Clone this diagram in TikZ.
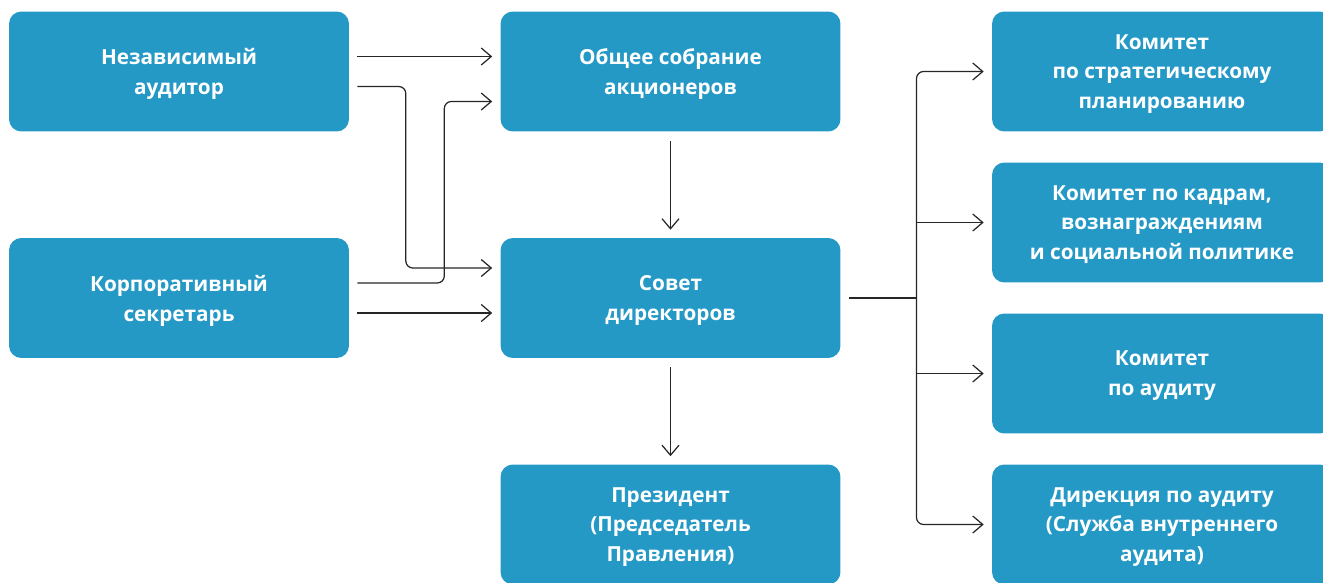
\documentclass[tikz,border=0pt]{standalone}
\usepackage{fontspec}
\setmainfont{Open Sans}
\usepackage{tikz}
\usetikzlibrary{positioning,calc,arrows.meta}
\definecolor{boxblue}{RGB}{37,153,198}

\begin{document}
\begin{tikzpicture}[x=0.02cm, y=-0.02cm,
    box/.style={rectangle, rounded corners=7pt, fill=boxblue, text=white,
      minimum width=6.8cm, minimum height=2.4cm, align=center, text depth=0pt,
      font=\fontsize{11.8}{17}\selectfont\bfseries},
    link/.style={line width=0.7pt, black!85},
    arr/.style={link, -{Straight Barb[length=0.2cm, width=0.34cm]}, shorten >=0.16cm}]
  \path[use as bounding box, clip] (0,0) rectangle (1323,582);

  % Left column
  \node[box] (aud) at (179, 71.5) {Независимый\\аудитор};
  \node[box] (sec) at (179, 298) {Корпоративный\\секретарь};

  % Middle column
  \node[box] (gen) at (670.5, 71.5) {Общее собрание\\акционеров};
  \node[box] (board) at (670.5, 298) {Совет\\директоров};
  \node[box] (pres) at (670.5, 524.5) {Президент\\(Председатель\\Правления)};

  % Committees (Right)
  \node[box] (strat) at (1162, 71.5) {Комитет\\по стратегическому\\планированию};
  \node[box] (staff) at (1162, 222.5) {Комитет по кадрам,\\вознаграждениям\\и социальной политике};
  \node[box] (audcom) at (1162, 373.5) {Комитет\\по аудиту};
  \node[box] (intaud) at (1162, 524.5) {Дирекция по аудиту\\(Служба внутреннего\\аудита)};

  % Links from the left
  \draw[arr, shorten <=0.16cm] ([yshift=0.3cm]aud.east) -- ([yshift=0.3cm]gen.west);
  \draw[arr, shorten <=0.16cm, rounded corners=4pt] ([yshift=-0.3cm]aud.east) -- ++(56.5,0) |- ([yshift=0.6cm]board.west);
  \draw[arr, shorten <=0.16cm, rounded corners=4pt] ([yshift=0.3cm]sec.east) -- ++(95,0) |- ([yshift=-0.6cm]gen.west);
  \draw[arr, shorten <=0.16cm] ([yshift=-0.3cm]sec.east) -- ([yshift=-0.3cm]board.west);

  % Down the middle
  \draw[arr, shorten <=0.18cm] (gen) -- (board);
  \draw[arr, shorten <=0.18cm] (board) -- (pres);

  % Trunk to the committees
  \coordinate (trunk) at (916.5, 298);
  \draw[link, shorten <=0.16cm] (board.east) -- (trunk);
  \draw[arr, rounded corners=4pt] (trunk) |- (strat.west);
  \draw[arr, rounded corners=4pt] (trunk) |- (intaud.west);
  \draw[arr] (trunk |- staff.west) -- (staff.west);
  \draw[arr] (trunk |- audcom.west) -- (audcom.west);
\end{tikzpicture}
\end{document}
